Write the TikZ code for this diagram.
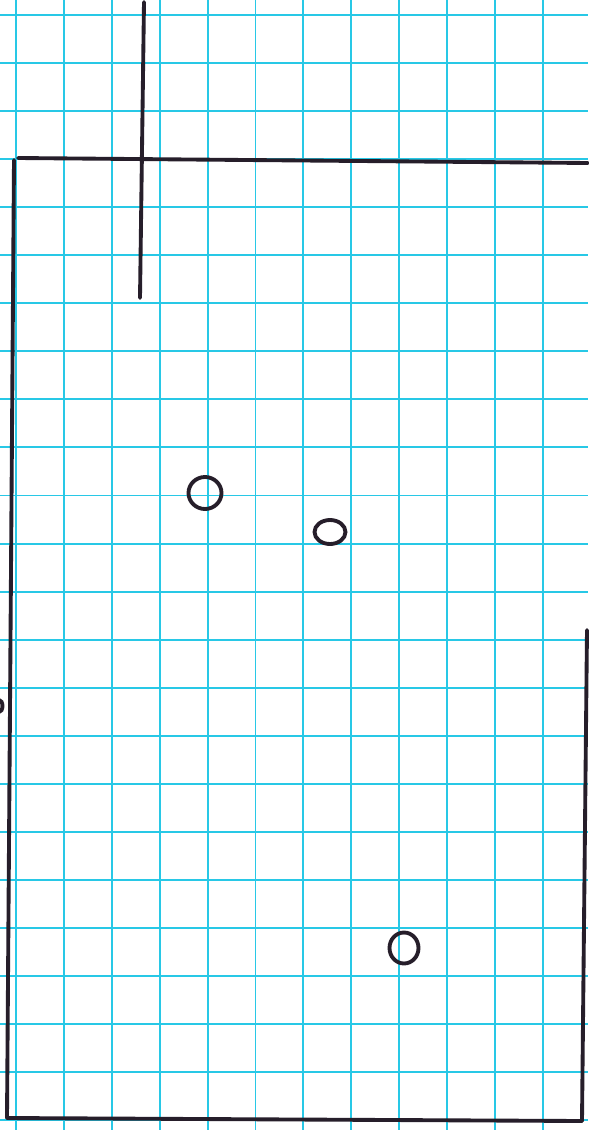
\documentclass[tikz,border=0pt]{standalone}
\usepackage{tikz}
\usetikzlibrary{calc}

\definecolor{gridcyan}{RGB}{40,200,230}
\definecolor{inkdark}{RGB}{38,30,42}

\tikzset{
  gridline/.style={draw=gridcyan, line width=2.8pt},
  inkline/.style={draw=inkdark, line width=5.5pt, line cap=round},
  inkring/.style={draw=inkdark, line width=5.5pt}
}

\begin{document}
\begin{tikzpicture}[x=0.5mm, y=-0.5mm]
  % Paper
  \useasboundingbox[fill=white] (0, 0) rectangle (588, 1130);

  % Graph paper grid
  \foreach \k in {0,...,11}
    \draw[gridline] ({16+47.9*\k}, 0) -- ({16+47.9*\k}, 1130);
  \foreach \k in {0,...,23}
    \draw[gridline] (0, {15+48.05*\k}) -- (588, {15+48.05*\k});

  % Frame
  \draw[inkline] (18, 158) -- (588, 163);
  \draw[inkline] (14, 160) -- (7, 1118);
  \draw[inkline] (7, 1118) -- (582, 1121);
  \draw[inkline] (587, 630) -- (582, 1121);

  % Vertical stroke through the top edge
  \draw[inkline] (144, 2) -- (140, 298);

  % Small rings
  \draw[inkring] (205, 493) ellipse (16.5 and 16);
  \draw[inkring] (330, 532) ellipse (15.5 and 12);
  \draw[inkring] (404, 948) ellipse (14.5 and 15.5);

  % Mark at the left edge
  \draw[inkring] (-1, 706) ellipse (3.5 and 6);
\end{tikzpicture}
\end{document}
